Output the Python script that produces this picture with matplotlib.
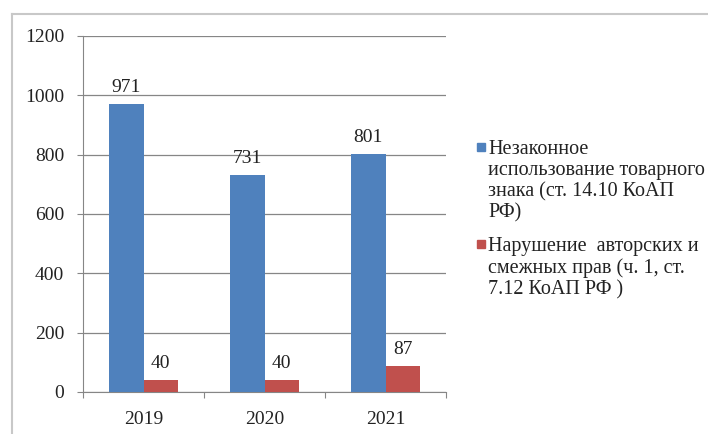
import numpy as np
import matplotlib
matplotlib.use("Agg")
import matplotlib.pyplot as plt
from matplotlib.lines import Line2D
from matplotlib.patches import Rectangle

# data
years = ["2019", "2020", "2021"]
trademark = [971, 731, 801]
copyright_ = [40, 40, 87]
labels = [
    "Незаконное\nиспользование товарного\nзнака (ст. 14.10 КоАП\nРФ)",
    "Нарушение  авторских и\nсмежных прав (ч. 1, ст.\n7.12 КоАП РФ )",
]
colors = ["#4F81BD", "#C0504D"]
yticks = [0, 200, 400, 600, 800, 1000, 1200]

plt.rcParams['font.family'] = ['Liberation Serif', 'DejaVu Serif']

W, H = 708, 434
fig = plt.figure(figsize=(W / 100, H / 100), dpi=100)
ax = fig.add_axes([83 / W, 1 - 392 / H, (446 - 83) / W, (392 - 36) / H])

x = np.arange(len(years))
w = 1 / 3.5
b1 = ax.bar(x - w / 2, trademark, w, color=colors[0], zorder=3)
b2 = ax.bar(x + w / 2, copyright_, w, color=colors[1], zorder=3)

for bars, vals in ((b1, trademark), (b2, copyright_)):
    for r, v in zip(bars, vals):
        ax.annotate(str(v), (r.get_x() + r.get_width() / 2, v),
                    xytext=(0, 6), textcoords="offset points",
                    ha="center", va="bottom", fontsize=14, color="#222222")

ax.set_ylim(0, 1200)
ax.set_yticks(yticks)
ax.set_xlim(-0.5, 2.5)
ax.set_xticks([-0.5, 0.5, 1.5, 2.5])
ax.set_xticklabels([])
ax.set_xticks(x, minor=True)
ax.set_xticklabels(years, minor=True)
ax.tick_params(axis="x", which="major", length=4.5, color="#868686", direction="out")
ax.tick_params(axis="x", which="minor", length=0, pad=14, labelsize=14, labelcolor="#222222")
ax.tick_params(axis="y", length=4.5, color="#868686", pad=9, labelsize=14, labelcolor="#222222")
ax.grid(axis="y", color="#868686", linewidth=0.9, zorder=0)
for s in ("top", "right"):
    ax.spines[s].set_visible(False)
for s in ("left", "bottom"):
    ax.spines[s].set_color("#868686")

# outer chart frame (only left & top visible)
fig.add_artist(Line2D([12 / W, 12 / W], [0, 1 - 14 / H], color="#C8C8C8", lw=1.5))
fig.add_artist(Line2D([12 / W, 1], [1 - 14 / H, 1 - 14 / H], color="#C8C8C8", lw=1.5))

# legend
ys = [147, 244]
for lab, c, y in zip(labels, colors, ys):
    fig.add_artist(Rectangle((477 / W, 1 - (y + 4) / H), 8 / W, 8 / H,
                             color=c, transform=fig.transFigure))
    fig.text(488 / W, 1 - (y - 7) / H, lab, ha="left", va="top", fontsize=14.5,
             color="#222222", linespacing=1.15)

fig.savefig("out.png", dpi=100)
